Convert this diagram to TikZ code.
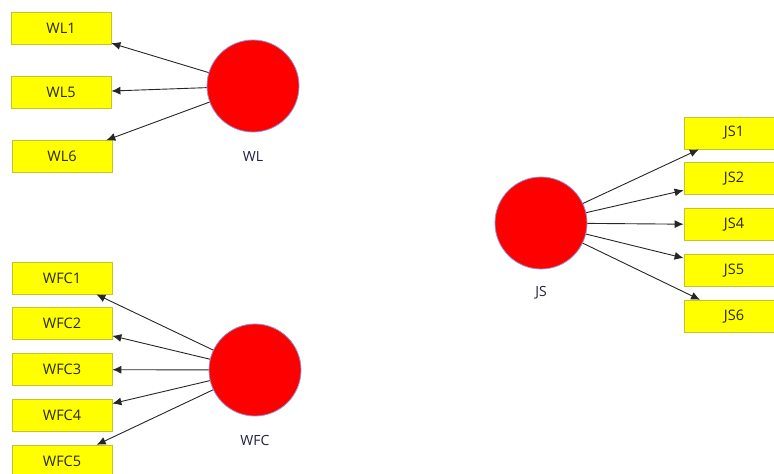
\documentclass[tikz,border=0pt]{standalone}
\usepackage{fontspec}
\setmainfont{Open Sans}
\usetikzlibrary{positioning,arrows.meta}
\definecolor{boxfill}{RGB}{255,255,0}
\definecolor{boxline}{RGB}{196,196,40}
\definecolor{lvfill}{RGB}{255,0,0}
\definecolor{lvline}{RGB}{140,150,210}
\definecolor{txt}{RGB}{40,40,20}
\tikzset{
construct/.style={circle,fill=lvfill,draw=lvline,line width=0.8pt,minimum size=92pt,inner sep=0pt},
item/.style={rectangle,fill=boxfill,draw=boxline,line width=0.8pt,minimum width=100pt,minimum height=32pt,inner sep=0pt,
font=\fontsize{14.5pt}{16pt}\selectfont,text=txt},
cname/.style={font=\fontsize{14pt}{16pt}\selectfont,text=txt!80!blue},
loading/.style={-{Latex[length=9pt,width=8pt]},line width=0.9pt,black!85}
}
\begin{document}
\begin{tikzpicture}[x=1pt,y=-1pt]
\useasboundingbox (0,0) rectangle (774,474);
% latent variables
\node[construct] (wl) at (253,86) {};
\node[cname] (wlname) at (253,157) {WL};
\node[construct] (wfc) at (255,370) {};
\node[cname] (wfcname) at (255,440) {WFC};
\node[construct] (js) at (541,223) {};
\node[cname] (jsname) at (541,293) {JS};
% WL indicators
\node[item] (wl1) at (61,28) {WL1};
\node[item,below=32pt of wl1] (wl5) {WL5};
\node[item,below=31pt of wl5,xshift=1pt] (wl6) {WL6};
% WFC indicators
\node[item] (wfc1) at (62,278) {WFC1};
\node[item,below=13pt of wfc1] (wfc2) {WFC2};
\node[item,below=13pt of wfc2] (wfc3) {WFC3};
\node[item,below=13pt of wfc3] (wfc4) {WFC4};
\node[item,below=13pt of wfc4] (wfc5) {WFC5};
% JS indicators
\node[item] (js1) at (734,133) {JS1};
\node[item,below=13pt of js1] (js2) {JS2};
\node[item,below=13pt of js2] (js4) {JS4};
\node[item,below=13pt of js4] (js5) {JS5};
\node[item,below=13pt of js5] (js6) {JS6};
% loadings
\foreach \i in {1,5,6} \draw[loading] (wl) -- (wl\i);
\foreach \i in {1,...,5} \draw[loading] (wfc) -- (wfc\i);
\foreach \i in {1,2,4,5,6} \draw[loading] (js) -- (js\i);
\end{tikzpicture}
\end{document}
